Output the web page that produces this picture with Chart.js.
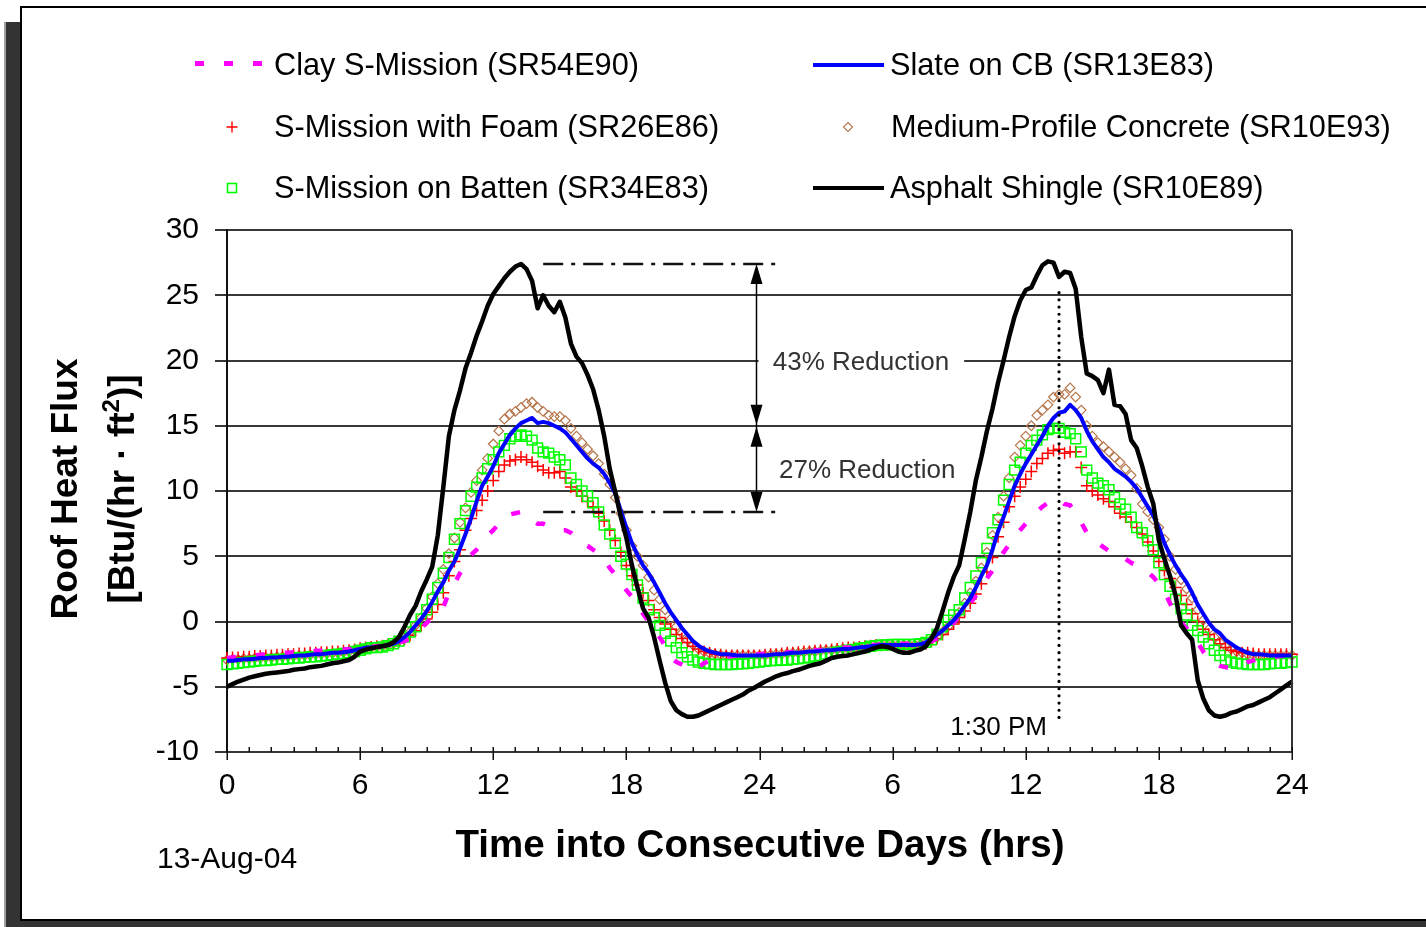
<!DOCTYPE html>
<html>
<head>
<meta charset="utf-8">
<title>Roof Heat Flux</title>
<script src="https://cdn.jsdelivr.net/npm/chart.js@4.4.1/dist/chart.umd.min.js"></script>
<style>
  html, body { margin: 0; padding: 0; background: #fff; overflow: hidden; }
  canvas { display: block; }
</style>
</head>
<body>
<canvas id="flux" width="1426" height="927"></canvas>
<script>
// Readings every 15 minutes across two consecutive days (hour 0 .. 48)
const SAMPLE_STEP_HOURS = 0.25;

const xTickLabels = ['0', '6', '12', '18', '24', '6', '12', '18', '24'];

const seriesNames = [
  'Clay S-Mission (SR54E90)',
  'S-Mission with Foam (SR26E86)',
  'S-Mission on Batten (SR34E83)',
  'Slate on CB (SR13E83)',
  'Medium-Profile Concrete (SR10E93)',
  'Asphalt Shingle (SR10E89)'
];

// Roof heat flux, Btu/(hr·ft²), one row per hour
const clayMission = [
  -2.8,-2.75,-2.7,-2.65, -2.6,-2.6,-2.55,-2.5, -2.5,-2.45,-2.4,-2.4, -2.35,-2.35,-2.3,-2.3,
  -2.25,-2.25,-2.2,-2.2, -2.2,-2.15,-2.1,-2.1, -2.05,-2.0,-1.95,-1.9, -1.85,-1.8,-1.7,-1.6,
  -1.5,-1.3,-1.0,-0.5, -0.1,0.3,0.7,1.1, 2.2,2.9,3.7,4.4, 5.1,5.5,6.0,6.6,
  7.0,7.5,8.0,8.2, 8.3,8.4,8.0,7.8, 7.5,7.5,7.3,7.2, 7.0,7.0,6.8,6.4,
  6.0,5.8,5.5,5.2, 4.8,4.1,3.6,3.0, 2.4,1.9,1.3,0.6, 0.0,-0.6,-1.2,-1.9,
  -2.7,-3.1,-3.3,-3.5, -3.7,-3.5,-3.2,-3.0, -2.9,-2.8,-2.7,-2.65, -2.6,-2.55,-2.5,-2.5,
  -2.5,-2.45,-2.45,-2.4, -2.4,-2.35,-2.35,-2.3, -2.3,-2.25,-2.2,-2.2, -2.15,-2.1,-2.05,-2.0,
  -2.0,-1.95,-1.9,-1.85, -1.8,-1.8,-1.75,-1.75, -1.7,-1.7,-1.7,-1.7, -1.7,-1.7,-1.6,-1.5,
  -1.3,-0.9,-0.5,-0.1, 0.4,0.9,1.4,2.0, 2.7,3.3,3.9,4.6, 5.3,5.9,6.5,7.0,
  7.5,7.9,8.4,8.8, 9.1,9.3,9.4,9.0, 8.9,8.3,7.6,6.8, 6.2,6.0,5.7,5.4,
  5.2,5.0,4.8,4.5, 4.3,4.0,3.8,3.4, 2.9,2.3,1.4,0.6, -0.1,-0.5,-0.9,-1.6,
  -2.3,-2.8,-3.2,-3.4, -3.5,-3.6,-3.5,-3.3, -3.1,-3.0,-2.9,-2.8, -2.7,-2.7,-2.65,-2.6,
  -2.6
];

const missionFoam = [
  -2.8,-2.75,-2.75,-2.7, -2.7,-2.65,-2.65,-2.6, -2.6,-2.55,-2.55,-2.5, -2.5,-2.45,-2.45,-2.4,
  -2.4,-2.35,-2.35,-2.3, -2.3,-2.25,-2.2,-2.15, -2.05,-2.0,-1.95,-1.9, -1.85,-1.8,-1.7,-1.55,
  -1.35,-1.05,-0.7,-0.3, 0.2,0.7,1.3,2.2, 3.5,4.6,5.5,7.0, 7.9,8.5,9.3,10.0,
  10.8,11.5,12.0,12.3, 12.4,12.6,12.4,12.2, 11.9,11.6,11.4,11.4, 11.5,11.0,10.3,10.0,
  9.6,9.2,8.8,8.3, 7.7,7.0,6.2,5.3, 4.3,3.5,2.8,2.2, 1.6,0.9,0.3,-0.2,
  -0.6,-1.0,-1.3,-1.6, -1.9,-2.1,-2.3,-2.4, -2.5,-2.55,-2.6,-2.6, -2.6,-2.6,-2.6,-2.6,
  -2.6,-2.55,-2.5,-2.5, -2.45,-2.4,-2.4,-2.35, -2.3,-2.3,-2.25,-2.2, -2.2,-2.15,-2.1,-2.05,
  -2.0,-2.0,-1.95,-1.9, -1.85,-1.8,-1.8,-1.8, -1.8,-1.8,-1.8,-1.8, -1.85,-1.8,-1.7,-1.5,
  -1.3,-1.0,-0.6,-0.2, 0.3,0.8,1.4,2.1, 2.9,3.8,4.9,6.5, 7.6,8.8,9.6,10.3,
  10.9,11.5,12.1,12.5, 12.9,13.1,13.2,12.9, 13.0,13.0,11.8,10.4, 10.0,9.7,9.4,9.2,
  8.8,8.3,8.0,7.6, 7.2,6.7,6.1,5.4, 4.6,3.9,3.3,2.6, 2.0,1.3,0.6,0.0,
  -0.6,-1.0,-1.4,-1.7, -2.0,-2.2,-2.3,-2.4, -2.4,-2.45,-2.5,-2.5, -2.5,-2.5,-2.5,-2.5,
  -2.5
];

const missionBatten = [
  -3.3,-3.25,-3.2,-3.15, -3.1,-3.05,-3.0,-3.0, -2.95,-2.9,-2.9,-2.85, -2.8,-2.8,-2.75,-2.7,
  -2.7,-2.65,-2.6,-2.55, -2.5,-2.45,-2.4,-2.3, -2.2,-2.1,-2.0,-2.0, -1.95,-1.85,-1.7,-1.5,
  -1.2,-0.8,-0.4,0.2, 0.9,1.7,2.6,3.7, 4.9,6.3,7.5,8.5, 9.6,10.3,11.0,11.7,
  12.4,13.0,13.5,14.0, 14.2,14.3,14.2,13.9, 13.3,13.0,12.9,12.6, 12.4,12.0,11.0,10.5,
  10.0,9.6,9.1,8.4, 7.4,6.7,6.0,5.0, 4.4,3.6,2.8,1.8, 0.9,0.3,-0.3,-0.9,
  -1.5,-2.0,-2.4,-2.7, -2.95,-3.1,-3.2,-3.25, -3.3,-3.3,-3.3,-3.3, -3.25,-3.25,-3.2,-3.15,
  -3.1,-3.05,-3.0,-3.0, -2.95,-2.95,-2.9,-2.85, -2.8,-2.75,-2.65,-2.6, -2.5,-2.45,-2.35,-2.3,
  -2.2,-2.15,-2.05,-2.0, -1.9,-1.85,-1.8,-1.8, -1.75,-1.75,-1.75,-1.75, -1.75,-1.7,-1.6,-1.4,
  -1.0,-0.4,0.1,0.5, 0.9,1.8,2.6,3.5, 4.5,5.6,6.8,7.8, 9.3,10.5,11.6,12.2,
  12.9,13.5,13.9,14.3, 14.7,14.8,14.8,14.5, 14.4,14.0,13.0,11.6, 11.0,10.6,10.4,10.1,
  9.5,9.0,8.6,8.0, 7.2,6.8,6.2,5.5, 4.5,3.6,2.7,1.7, 1.0,0.5,-0.3,-0.7,
  -1.2,-1.7,-2.2,-2.6, -2.95,-3.1,-3.2,-3.25, -3.3,-3.3,-3.3,-3.3, -3.25,-3.2,-3.2,-3.15,
  -3.1
];

const slateCB = [
  -3.0,-3.0,-2.95,-2.9, -2.9,-2.85,-2.8,-2.8, -2.75,-2.75,-2.7,-2.7, -2.65,-2.6,-2.6,-2.55,
  -2.5,-2.5,-2.45,-2.4, -2.4,-2.35,-2.3,-2.2, -2.1,-2.0,-2.0,-1.95, -1.9,-1.8,-1.7,-1.5,
  -1.2,-0.8,-0.3,0.2, 0.8,1.5,2.3,3.0, 3.9,4.6,5.6,6.7, 7.9,9.2,10.4,11.1,
  11.9,12.9,13.6,14.3, 14.8,15.2,15.4,15.6, 15.2,15.3,15.2,15.0, 14.8,14.5,14.0,13.5,
  13.0,12.5,12.1,11.8, 11.3,10.6,9.8,8.5, 7.2,6.0,5.1,4.3, 3.7,3.0,2.2,1.4,
  0.7,0.1,-0.5,-1.0, -1.5,-1.85,-2.1,-2.3, -2.4,-2.5,-2.5,-2.55, -2.6,-2.6,-2.6,-2.6,
  -2.6,-2.6,-2.55,-2.5, -2.5,-2.45,-2.4,-2.4, -2.35,-2.3,-2.3,-2.25, -2.2,-2.2,-2.15,-2.1,
  -2.1,-2.05,-2.0,-1.95, -1.9,-1.85,-1.8,-1.8, -1.8,-1.8,-1.8,-1.8, -1.8,-1.75,-1.6,-1.3,
  -1.0,-0.7,-0.3,0.1, 0.6,1.2,1.8,2.6, 3.5,4.3,5.5,6.9, 8.0,9.2,10.4,11.3,
  12.1,12.8,13.5,14.2, 15.0,15.6,16.0,16.1, 16.6,16.2,15.6,14.6, 13.8,13.2,12.6,12.2,
  11.7,11.4,11.1,10.7, 10.2,9.5,8.8,8.1, 7.2,6.0,5.1,4.3, 3.6,3.0,2.2,1.3,
  0.6,-0.1,-0.6,-0.9, -1.4,-1.7,-2.0,-2.2, -2.4,-2.5,-2.5,-2.55, -2.6,-2.6,-2.6,-2.6,
  -2.6
];

const mediumConcrete = [
  -2.95,-2.9,-2.9,-2.85, -2.85,-2.8,-2.8,-2.75, -2.75,-2.7,-2.7,-2.65, -2.65,-2.6,-2.6,-2.55,
  -2.5,-2.5,-2.45,-2.45, -2.4,-2.35,-2.3,-2.2, -2.1,-2.05,-2.0,-1.95, -1.9,-1.8,-1.7,-1.5,
  -1.2,-0.8,-0.3,0.3, 1.0,1.9,2.9,4.0, 5.2,6.4,7.6,8.7, 9.9,10.8,11.6,12.5,
  13.6,14.6,15.5,15.9, 16.1,16.4,16.7,16.8, 16.4,16.1,15.8,15.7, 15.7,15.4,14.8,14.2,
  13.7,13.2,12.7,12.1, 11.3,10.5,9.5,8.3, 7.0,5.8,5.0,4.3, 3.4,2.4,1.7,0.9,
  0.2,-0.4,-0.9,-1.4, -1.8,-2.1,-2.3,-2.45, -2.5,-2.55,-2.6,-2.6, -2.6,-2.6,-2.6,-2.6,
  -2.6,-2.6,-2.55,-2.5, -2.5,-2.45,-2.4,-2.4, -2.35,-2.3,-2.3,-2.25, -2.2,-2.2,-2.15,-2.1,
  -2.1,-2.05,-2.0,-1.95, -1.9,-1.85,-1.8,-1.8, -1.8,-1.8,-1.8,-1.8, -1.8,-1.75,-1.6,-1.4,
  -1.2,-0.8,-0.4,0.1, 0.7,1.4,2.2,3.1, 4.1,5.3,6.6,8.0, 9.6,11.0,12.6,13.5,
  14.2,15.0,15.8,16.2, 16.6,17.2,17.4,17.4, 17.9,17.2,16.2,15.0, 14.2,13.7,13.4,13.0,
  12.6,12.2,11.7,11.2, 10.2,9.0,8.4,7.8, 7.2,6.3,5.0,4.0, 3.2,2.5,1.8,0.9,
  0.1,-0.6,-1.2,-1.6, -1.9,-2.1,-2.3,-2.4, -2.5,-2.55,-2.6,-2.6, -2.6,-2.6,-2.6,-2.6,
  -2.6
];

const asphaltShingle = [
  -5.0,-4.8,-4.6,-4.45, -4.3,-4.2,-4.1,-4.0, -3.95,-3.9,-3.85,-3.8, -3.7,-3.65,-3.6,-3.5,
  -3.45,-3.4,-3.3,-3.2, -3.15,-3.05,-2.95,-2.7, -2.3,-2.15,-2.05,-1.95, -1.9,-1.8,-1.6,-1.2,
  -0.4,0.5,1.2,2.3, 3.2,4.2,6.6,10.3, 14.2,16.2,17.7,19.4, 20.6,21.9,23.0,24.2,
  25.1,25.7,26.3,26.8, 27.2,27.4,27.0,26.1, 24.0,25.0,24.2,23.7, 24.5,23.3,21.3,20.3,
  19.8,18.9,17.8,16.2, 14.2,11.7,9.9,8.0, 6.4,4.3,2.6,1.0, 0.3,-1.2,-3.0,-4.7,
  -6.1,-6.8,-7.1,-7.3, -7.3,-7.2,-7.0,-6.8, -6.6,-6.4,-6.2,-6.0, -5.8,-5.6,-5.3,-5.1,
  -4.85,-4.6,-4.4,-4.2, -4.05,-3.95,-3.8,-3.7, -3.55,-3.4,-3.3,-3.2, -3.0,-2.8,-2.7,-2.65,
  -2.6,-2.5,-2.4,-2.3, -2.15,-2.0,-1.9,-1.95, -2.1,-2.3,-2.4,-2.4, -2.25,-2.15,-1.9,-1.3,
  -0.5,0.8,2.2,3.4, 4.3,6.3,8.4,10.8, 12.6,14.6,16.3,18.3, 20.0,21.8,23.4,24.6,
  25.4,25.6,26.5,27.3, 27.6,27.5,26.4,26.8, 26.7,25.5,21.8,19.0, 18.8,18.5,17.5,19.3,
  16.6,16.5,15.9,13.9, 13.3,11.9,10.3,9.0, 6.2,4.8,3.5,2.0, -0.3,-0.9,-1.4,-4.5,
  -5.9,-6.8,-7.2,-7.3, -7.2,-7.0,-6.9,-6.7, -6.5,-6.4,-6.2,-6.0, -5.8,-5.5,-5.2,-4.9,
  -4.6
];

// Reduction callouts and the mid-afternoon marker (hours, flux)
const reductionArrowHour = 23.85;
const reductionRuleFrom = 14.25;
const reductionRuleTo = 24.8;
const asphaltPeakFlux = 27.4;
const arrowMeetFlux = 15.0;
const clayPeakFlux = 8.4;
const reductionLabels = ['43% Reduction', '27% Reduction'];
const markerHour = 37.5;           // 1:30 PM on the second day
const markerLabel = '1:30 PM';
const markerTopFlux = 25.2;
const markerBottomFlux = -7.7;

const FONT = '"Liberation Sans", Arial, Helvetica, sans-serif';

function toPoints(values) {
  return values.map((v, i) => ({ x: i * SAMPLE_STEP_HOURS, y: v }));
}

const COLORS = {
  clay: '#ff00ff',
  foam: '#ff0000',
  batten: '#00ff00',
  slate: '#0000ff',
  concrete: '#b5754a',
  asphalt: '#000000'
};

function drawArrowHead(ctx, x, tipY, dir) {
  // dir = -1 points up, +1 points down
  const len = 20, half = 6;
  ctx.beginPath();
  ctx.moveTo(x, tipY);
  ctx.lineTo(x - half, tipY - dir * len);
  ctx.lineTo(x + half, tipY - dir * len);
  ctx.closePath();
  ctx.fill();
}

const pagePlugin = {
  id: 'pageDecor',
  beforeDraw(chart) {
    const ctx = chart.ctx;
    const W = chart.width, H = chart.height;
    ctx.save();
    ctx.fillStyle = '#ffffff';
    ctx.fillRect(0, 0, W, H);
    // drop shadow of the framed panel
    ctx.fillStyle = '#a0a0a0';
    ctx.fillRect(4, 22, 2, H - 22);
    ctx.fillStyle = '#333333';
    ctx.fillRect(6, 22, 15, H - 22);
    ctx.fillRect(6, 921, W, H - 921);
    // panel border
    ctx.strokeStyle = '#000000';
    ctx.lineWidth = 2;
    ctx.strokeRect(21, 7, W + 20, 913);
    ctx.restore();
  },
  afterDraw(chart) {
    const ctx = chart.ctx;
    const xs = chart.scales.x, ys = chart.scales.y;
    const X = v => xs.getPixelForValue(v);
    const Y = v => ys.getPixelForValue(v);
    ctx.save();

    // right-hand frame of the plot
    ctx.strokeStyle = '#333';
    ctx.lineWidth = 2;
    ctx.beginPath();
    ctx.moveTo(X(48), Y(30));
    ctx.lineTo(X(48), Y(-10));
    ctx.stroke();

    // hourly tick marks on the time axis
    ctx.strokeStyle = '#111';
    ctx.lineWidth = 1.5;
    const base = Y(-10);
    for (let h = 0; h <= 48; h++) {
      const px = Math.round(X(h)) + 0.25;
      ctx.beginPath();
      if (h % 6 === 0) { ctx.moveTo(px, base - 5); ctx.lineTo(px, base + 8); }
      else { ctx.moveTo(px, base - 5); ctx.lineTo(px, base); }
      ctx.stroke();
    }

    // dash-dot reference rules at the two peaks
    ctx.strokeStyle = '#111';
    ctx.lineWidth = 2.5;
    ctx.setLineDash([20, 8, 4, 8]);
    [asphaltPeakFlux, clayPeakFlux].forEach(f => {
      ctx.beginPath();
      ctx.moveTo(X(reductionRuleFrom), Y(f));
      ctx.lineTo(X(reductionRuleTo), Y(f));
      ctx.stroke();
    });
    ctx.setLineDash([]);

    // double-headed arrows
    const ax = Math.round(X(reductionArrowHour)) + 0.5;
    ctx.strokeStyle = '#000';
    ctx.fillStyle = '#000';
    ctx.lineWidth = 1.5;
    ctx.beginPath();
    ctx.moveTo(ax, Y(asphaltPeakFlux) + 4);
    ctx.lineTo(ax, Y(clayPeakFlux) - 4);
    ctx.stroke();
    drawArrowHead(ctx, ax, Y(asphaltPeakFlux), -1);
    drawArrowHead(ctx, ax, Y(arrowMeetFlux) - 1, 1);
    drawArrowHead(ctx, ax, Y(arrowMeetFlux) + 1, -1);
    drawArrowHead(ctx, ax, Y(clayPeakFlux), 1);

    // reduction labels
    ctx.font = '26px ' + FONT;
    ctx.textBaseline = 'alphabetic';
    ctx.textAlign = 'left';
    const l1x = X(24.6), l1y = Y(20) + 9;
    const w1 = ctx.measureText(reductionLabels[0]).width;
    ctx.fillStyle = '#ffffff';
    ctx.fillRect(ax + 2, l1y - 24, (l1x - ax - 2) + w1 + 15, 32);
    ctx.fillStyle = '#333333';
    ctx.fillText(reductionLabels[0], l1x, l1y);
    ctx.fillText(reductionLabels[1], X(24.88), Y(11.7) + 9);

    // dotted marker at 1:30 PM
    const mx = X(markerHour);
    ctx.strokeStyle = '#000';
    ctx.lineWidth = 3.2;
    ctx.lineCap = 'round';
    ctx.setLineDash([0, 7.2]);
    ctx.beginPath();
    ctx.moveTo(mx, Y(markerTopFlux));
    ctx.lineTo(mx, Y(markerBottomFlux));
    ctx.stroke();
    ctx.setLineDash([]);
    ctx.lineCap = 'butt';
    ctx.fillStyle = '#000';
    ctx.textAlign = 'right';
    ctx.fillText(markerLabel, mx - 12, Y(-8.7));

    // axis titles
    ctx.fillStyle = '#000';
    ctx.textAlign = 'center';
    ctx.font = 'bold 38.5px ' + FONT;
    ctx.fillText('Time into Consecutive Days (hrs)', 760, 857);

    ctx.save();
    ctx.translate(77, 489);
    ctx.rotate(-Math.PI / 2);
    ctx.font = 'bold 37px ' + FONT;
    ctx.textAlign = 'center';
    ctx.fillText('Roof Heat Flux', 0, 0);
    ctx.restore();

    ctx.save();
    ctx.translate(134, 489);
    ctx.rotate(-Math.PI / 2);
    ctx.textAlign = 'left';
    const partA = '[Btu/(hr \u00B7 ft', partB = '2', partC = ')]';
    ctx.font = 'bold 37px ' + FONT;
    const wa = ctx.measureText(partA).width, wc = ctx.measureText(partC).width;
    ctx.font = 'bold 24px ' + FONT;
    const wb = ctx.measureText(partB).width;
    let cx = -(wa + wb + wc) / 2;
    ctx.font = 'bold 37px ' + FONT;
    ctx.fillText(partA, cx, 0); cx += wa;
    ctx.font = 'bold 24px ' + FONT;
    ctx.fillText(partB, cx, -15); cx += wb;
    ctx.font = 'bold 37px ' + FONT;
    ctx.fillText(partC, cx, 0);
    ctx.restore();

    ctx.font = '30px ' + FONT;
    ctx.textAlign = 'left';
    ctx.fillText('13-Aug-04', 157, 868);

    // legend
    drawLegend(ctx);
    ctx.restore();
  }
};

function drawLegend(ctx) {
  const rows = [63.5, 127, 188];
  const baselines = [75, 137, 198];
  ctx.save();
  ctx.font = '30.7px ' + FONT;
  ctx.textAlign = 'left';
  ctx.textBaseline = 'alphabetic';
  ctx.fillStyle = '#000';

  // column one
  ctx.strokeStyle = COLORS.clay;
  ctx.lineWidth = 5;
  ctx.setLineDash([9, 20]);
  ctx.beginPath(); ctx.moveTo(195, rows[0]); ctx.lineTo(263, rows[0]); ctx.stroke();
  ctx.setLineDash([]);

  ctx.strokeStyle = COLORS.foam;
  ctx.lineWidth = 1.4;
  ctx.beginPath();
  ctx.moveTo(232 - 5.5, rows[1]); ctx.lineTo(232 + 5.5, rows[1]);
  ctx.moveTo(232, rows[1] - 5.5); ctx.lineTo(232, rows[1] + 5.5);
  ctx.stroke();

  ctx.strokeStyle = COLORS.batten;
  ctx.lineWidth = 1.6;
  ctx.strokeRect(232 - 4.5, rows[2] - 4.5, 9, 9);

  ctx.fillText(seriesNames[0], 274, baselines[0]);
  ctx.fillText(seriesNames[1], 274, baselines[1]);
  ctx.fillText(seriesNames[2], 274, baselines[2]);

  // column two
  ctx.strokeStyle = COLORS.slate;
  ctx.lineWidth = 4;
  ctx.beginPath(); ctx.moveTo(813, 65); ctx.lineTo(884, 65); ctx.stroke();

  ctx.strokeStyle = COLORS.concrete;
  ctx.lineWidth = 1.1;
  ctx.beginPath();
  ctx.moveTo(848, rows[1] - 4.5); ctx.lineTo(852.5, rows[1]);
  ctx.lineTo(848, rows[1] + 4.5); ctx.lineTo(843.5, rows[1]); ctx.closePath();
  ctx.stroke();

  ctx.strokeStyle = COLORS.asphalt;
  ctx.lineWidth = 4;
  ctx.beginPath(); ctx.moveTo(813, rows[2]); ctx.lineTo(884, rows[2]); ctx.stroke();

  ctx.fillText(seriesNames[3], 890, baselines[0]);
  ctx.fillText(seriesNames[4], 891, baselines[1]);
  ctx.fillText(seriesNames[5], 890, baselines[2]);
  ctx.restore();
}

Chart.defaults.font.family = FONT;

new Chart(document.getElementById('flux'), {
  type: 'line',
  data: {
    datasets: [
      {
        label: seriesNames[0], data: toPoints(clayMission),
        borderColor: COLORS.clay, borderWidth: 4.5, borderDash: [9, 20],
        pointRadius: 0, fill: false, order: 3, clip: false
      },
      {
        label: seriesNames[1], data: toPoints(missionFoam),
        showLine: false, pointStyle: 'cross', pointRadius: 6,
        pointBorderColor: COLORS.foam, pointBorderWidth: 1.5,
        borderColor: COLORS.foam, order: 5, clip: false
      },
      {
        label: seriesNames[2], data: toPoints(missionBatten),
        showLine: false, pointStyle: 'rect', pointRadius: 7,
        pointBorderColor: COLORS.batten, pointBackgroundColor: 'rgba(0,0,0,0)',
        pointBorderWidth: 1.5, borderColor: COLORS.batten, order: 4, clip: false
      },
      {
        label: seriesNames[3], data: toPoints(slateCB),
        borderColor: COLORS.slate, borderWidth: 4, pointRadius: 0,
        borderJoinStyle: 'round', fill: false, order: 2, clip: false
      },
      {
        label: seriesNames[4], data: toPoints(mediumConcrete),
        showLine: false, pointStyle: 'rectRot', pointRadius: 4.8,
        pointBorderColor: COLORS.concrete, pointBackgroundColor: 'rgba(0,0,0,0)',
        pointBorderWidth: 1.2, borderColor: COLORS.concrete, order: 6, clip: false
      },
      {
        label: seriesNames[5], data: toPoints(asphaltShingle),
        borderColor: COLORS.asphalt, borderWidth: 4.5, pointRadius: 0,
        borderJoinStyle: 'round', fill: false, order: 1, clip: false
      }
    ]
  },
  options: {
    responsive: false,
    animation: false,
    devicePixelRatio: 1,
    events: [],
    layout: { padding: { top: 230, left: 0, right: 134, bottom: 0 } },
    plugins: {
      legend: { display: false },
      title: { display: false },
      tooltip: { enabled: false }
    },
    elements: { line: { tension: 0 } },
    scales: {
      x: {
        type: 'linear', min: 0, max: 48,
        afterFit(scale) { scale.height = 175; },
        ticks: {
          stepSize: 6, autoSkip: false, maxRotation: 0,
          padding: 16, color: '#000',
          font: { size: 30, family: FONT },
          callback: (value, index) => xTickLabels[index]
        },
        grid: { display: false, drawTicks: false },
        border: { display: false }
      },
      y: {
        min: -10, max: 30,
        afterFit(scale) { scale.width = 227; },
        ticks: {
          stepSize: 5, padding: 16, color: '#000',
          font: { size: 30, family: FONT }
        },
        grid: { color: '#383838', lineWidth: 2, tickLength: 12, drawTicks: true },
        border: { display: true, color: '#111', width: 2 }
      }
    }
  },
  plugins: [pagePlugin]
});
</script>
</body>
</html>
